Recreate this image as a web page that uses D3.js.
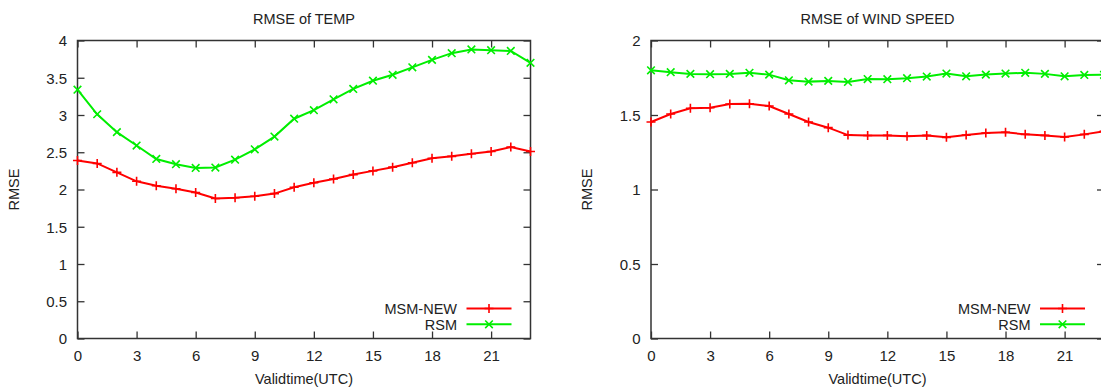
<!DOCTYPE html>
<html>
<head>
<meta charset="utf-8">
<script src="https://cdn.jsdelivr.net/npm/d3@7"></script>
<style>
  body { margin: 0; background: #fff; }
  text { font-family: "Liberation Sans", Arial, sans-serif; fill: #222; }
</style>
</head>
<body>
<script>
// ore di validita' 0..23 UTC
var hours = d3.range(0, 24);
var xTicks = [0, 3, 6, 9, 12, 15, 18, 21];

// RMSE temperatura
var tempMsmNew = [2.39, 2.35, 2.23, 2.11, 2.05, 2.01, 1.96, 1.88, 1.89, 1.91, 1.945, 2.03,
                  2.09, 2.14, 2.20, 2.25, 2.30, 2.36, 2.42, 2.445, 2.48, 2.51, 2.57, 2.51];
var tempRsm    = [3.34, 3.01, 2.77, 2.59, 2.41, 2.34, 2.29, 2.295, 2.40, 2.54, 2.71, 2.95,
                  3.065, 3.21, 3.35, 3.46, 3.54, 3.64, 3.74, 3.83, 3.88, 3.87, 3.86, 3.70];

// RMSE velocita' vento
var windMsmNew = [1.453, 1.507, 1.545, 1.549, 1.574, 1.576, 1.56, 1.507, 1.453, 1.415, 1.365, 1.362,
                  1.363, 1.357, 1.363, 1.35, 1.365, 1.379, 1.384, 1.37, 1.363, 1.352, 1.37, 1.39];
var windRsm    = [1.80, 1.787, 1.776, 1.774, 1.776, 1.783, 1.771, 1.733, 1.724, 1.729, 1.722, 1.741,
                  1.74, 1.747, 1.758, 1.778, 1.76, 1.771, 1.778, 1.783, 1.776, 1.76, 1.769, 1.77];

var tempTicks = [0, 0.5, 1, 1.5, 2, 2.5, 3, 3.5, 4];
var windTicks = [0, 0.5, 1, 1.5, 2];
var seriesNames = ["MSM-NEW", "RSM"];
var seriesColors = ["#ff0000", "#00ee00"];

var width = 1101, height = 391;
var plotTop = 40.5, plotBottom = 338.5;   // "top" e' riservato da window
var plotW = 453;

var svg = d3.select("body").append("svg")
    .attr("width", width)
    .attr("height", height);

function drawPanel(left, title, yMax, yTicks, msm, rsm) {
    var g = svg.append("g");

    var x = d3.scaleLinear().domain([0, 23]).range([left, left + plotW]);
    var y = d3.scaleLinear().domain([0, yMax]).range([plotBottom, plotTop]);

    // tacche (verso l'interno, anche sui lati opposti)
    var tickLen = 7;
    g.append("g").attr("transform", "translate(0," + plotBottom + ")")
        .call(d3.axisBottom(x).tickValues(xTicks).tickSizeInner(-tickLen).tickSizeOuter(0))
        .call(function (a) {
            a.select(".domain").remove();
            a.selectAll("text").style("font-size", "15px").attr("fill", "#222").attr("dy", "0.71em").attr("y", 11.5);
        });
    g.append("g").attr("transform", "translate(0," + plotTop + ")")
        .call(d3.axisTop(x).tickValues(xTicks).tickSizeInner(-tickLen).tickSizeOuter(0).tickFormat(""))
        .call(function (a) { a.select(".domain").remove(); });
    g.append("g").attr("transform", "translate(" + left + ",0)")
        .call(d3.axisLeft(y).tickValues(yTicks).tickSizeInner(-tickLen).tickSizeOuter(0).tickFormat(d3.format("")))
        .call(function (a) {
            a.select(".domain").remove();
            a.selectAll("text").style("font-size", "15px").attr("fill", "#222").attr("x", -10.5).attr("dy", "0.36em");
        });
    g.append("g").attr("transform", "translate(" + (left + plotW) + ",0)")
        .call(d3.axisRight(y).tickValues(yTicks).tickSizeInner(-tickLen).tickSizeOuter(0).tickFormat(""))
        .call(function (a) { a.select(".domain").remove(); });
    g.selectAll(".tick line").attr("stroke", "#333").attr("stroke-width", 1.3);

    // bordo
    g.append("rect")
        .attr("x", left).attr("y", plotTop)
        .attr("width", plotW).attr("height", plotBottom - plotTop)
        .attr("fill", "none").attr("stroke", "#333").attr("stroke-width", 1.5);

    // titoli
    g.append("text")
        .attr("x", left + plotW / 2).attr("y", 24)
        .attr("text-anchor", "middle").style("font-size", "14.5px")
        .text(title);
    g.append("text")
        .attr("x", left + plotW / 2).attr("y", 384)
        .attr("text-anchor", "middle").style("font-size", "14.5px")
        .text("Validtime(UTC)");
    g.append("text")
        .attr("transform", "translate(" + (left - 59) + "," + ((plotTop + plotBottom) / 2) + ") rotate(-90)")
        .attr("text-anchor", "middle").style("font-size", "14.5px")
        .text("RMSE");

    var line = d3.line()
        .x(function (d, i) { return x(hours[i]); })
        .y(function (d) { return y(d); });

    var clipId = "clip" + Math.round(left);
    g.append("clipPath").attr("id", clipId).append("rect")
        .attr("x", left - 6).attr("y", plotTop - 6).attr("width", plotW + 12).attr("height", plotBottom - plotTop + 12);

    var data = [msm, rsm];
    data.forEach(function (vals, s) {
        var col = seriesColors[s];
        var sg = g.append("g").attr("clip-path", "url(#" + clipId + ")");
        sg.append("path")
            .datum(vals)
            .attr("d", line)
            .attr("fill", "none")
            .attr("stroke", col)
            .attr("stroke-width", 2);
        // marcatori: + per MSM-NEW, x per RSM
        sg.selectAll("path.mk")
            .data(vals)
            .enter()
            .append("path")
            .attr("class", "mk")
            .attr("d", function (d, i) {
                return marker(s, x(hours[i]), y(d));
            })
            .attr("stroke", col)
            .attr("stroke-width", 1.6)
            .attr("fill", "none");
    });

    // legenda in basso a destra
    var legRight = left + plotW;
    var rows = [308.5, 324.3];
    seriesNames.forEach(function (name, s) {
        g.append("text")
            .attr("x", legRight - 73.5).attr("y", rows[s]).attr("dy", "0.36em")
            .attr("text-anchor", "end").style("font-size", "14.5px")
            .text(name);
        g.append("line")
            .attr("x1", legRight - 64).attr("x2", legRight - 19)
            .attr("y1", rows[s]).attr("y2", rows[s])
            .attr("stroke", seriesColors[s]).attr("stroke-width", 2);
        g.append("path")
            .attr("d", marker(s, legRight - 41.5, rows[s]))
            .attr("stroke", seriesColors[s]).attr("stroke-width", 1.6).attr("fill", "none");
    });
}

function marker(s, cx, cy) {
    if (s === 0) {
        return "M" + (cx - 4.5) + "," + cy + "H" + (cx + 4.5) + "M" + cx + "," + (cy - 4.5) + "V" + (cy + 4.5);
    }
    var r = 3.8;
    return "M" + (cx - r) + "," + (cy - r) + "L" + (cx + r) + "," + (cy + r) +
        "M" + (cx - r) + "," + (cy + r) + "L" + (cx + r) + "," + (cy - r);
}

drawPanel(77.5, "RMSE of TEMP", 4, tempTicks, tempMsmNew, tempRsm);
drawPanel(651, "RMSE of WIND SPEED", 2, windTicks, windMsmNew, windRsm);
</script>
</body>
</html>
